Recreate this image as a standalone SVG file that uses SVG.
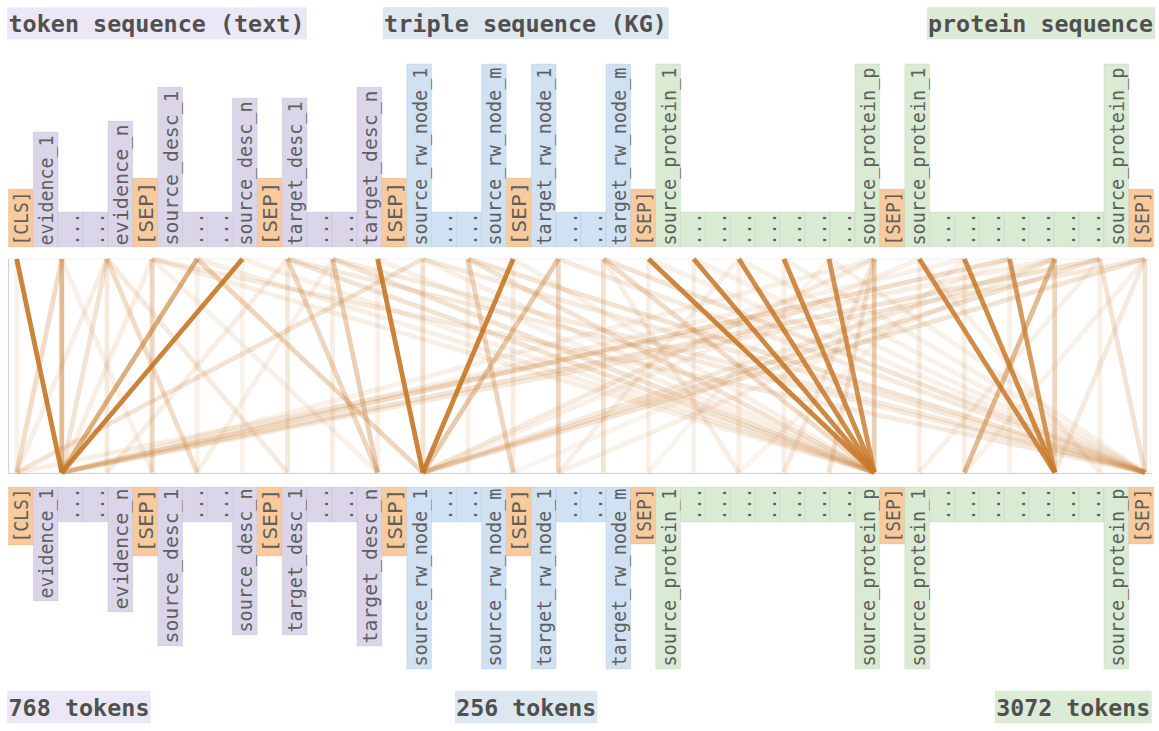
<svg xmlns="http://www.w3.org/2000/svg" width="1159" height="731" viewBox="0 0 1159 731">
<style>
.bg{fill:#ffffff}
.ttl{font-family:"DejaVu Sans Mono","Liberation Mono",monospace;font-weight:bold;font-size:23.8px;fill:#505050}
.tk{font-family:"DejaVu Sans Mono","Liberation Mono",monospace;font-size:20px;fill:#5f5f5f}
.tx{fill:#dbd5e9}
.kg{fill:#cfe1f2}
.pr{fill:#d9ebd3}
.sp{fill:#f8ca9c}
.cell{stroke:#000;stroke-opacity:0.05;stroke-width:1}
.a{stroke:#c8792a;stroke-width:4.8;stroke-linecap:butt}
</style>
<rect class="bg" x="0" y="0" width="1159" height="731"/>

<!-- titles -->
<g id="title-text"><rect x="7.3" y="7.3" width="299.4" height="32" fill="#ebe7f7"/><text class="ttl" x="8.5" y="32" textLength="296" lengthAdjust="spacingAndGlyphs">token sequence (text)</text></g>
<g id="title-kg"><rect x="382.7" y="7.3" width="286" height="32" fill="#dde7ef"/><text class="ttl" x="384" y="32" textLength="283" lengthAdjust="spacingAndGlyphs">triple sequence (KG)</text></g>
<g id="title-protein"><rect x="926.7" y="7.3" width="228.3" height="32" fill="#dcebd6"/><text class="ttl" x="928" y="32" textLength="225" lengthAdjust="spacingAndGlyphs">protein sequence</text></g>
<g id="count-text"><rect x="7.3" y="690.7" width="143.4" height="32.6" fill="#ebe7f7"/><text class="ttl" x="8.5" y="716" textLength="141" lengthAdjust="spacingAndGlyphs">768 tokens</text></g>
<g id="count-kg"><rect x="455" y="690.7" width="142.3" height="32.6" fill="#dde7ef"/><text class="ttl" x="456.3" y="716" textLength="140" lengthAdjust="spacingAndGlyphs">256 tokens</text></g>
<g id="count-protein"><rect x="995" y="690.7" width="156.7" height="32.6" fill="#dcebd6"/><text class="ttl" x="996.3" y="716" textLength="154" lengthAdjust="spacingAndGlyphs">3072 tokens</text></g>

<!-- attention panel frame -->
<g id="panel">
<rect x="8.5" y="259" width="1142" height="214" fill="none" stroke="#f2f2f2" stroke-width="1"/>
<path d="M8.5,259 V473.5 H1152" fill="none" stroke="#d2d2d2" stroke-width="1.2"/>
</g>

<!-- connectors: attention lines -->
<g id="connectors">
<line class="a" x1="16.7" y1="259" x2="61.8" y2="472.5" opacity="0.92"/>
<line class="a" x1="242.4" y1="259" x2="61.8" y2="472.5" opacity="0.92"/>
<line class="a" x1="377.7" y1="259" x2="422.9" y2="472.5" opacity="0.92"/>
<line class="a" x1="513.1" y1="259" x2="422.9" y2="472.5" opacity="0.92"/>
<line class="a" x1="648.5" y1="259" x2="874.2" y2="472.5" opacity="0.9"/>
<line class="a" x1="693.7" y1="259" x2="874.2" y2="472.5" opacity="0.88"/>
<line class="a" x1="738.8" y1="259" x2="874.2" y2="472.5" opacity="0.85"/>
<line class="a" x1="783.9" y1="259" x2="874.2" y2="472.5" opacity="0.85"/>
<line class="a" x1="829.0" y1="259" x2="874.2" y2="472.5" opacity="0.8"/>
<line class="a" x1="919.3" y1="259" x2="1054.7" y2="472.5" opacity="0.85"/>
<line class="a" x1="964.4" y1="259" x2="1054.7" y2="472.5" opacity="0.85"/>
<line class="a" x1="1009.6" y1="259" x2="1054.7" y2="472.5" opacity="0.75"/>

<line class="a" x1="61.8" y1="259" x2="61.8" y2="472.5" opacity="0.5"/>
<line class="a" x1="61.8" y1="259" x2="16.7" y2="472.5" opacity="0.25"/>
<line class="a" x1="197.2" y1="259" x2="61.8" y2="472.5" opacity="0.6"/>
<line class="a" x1="197.2" y1="259" x2="422.9" y2="472.5" opacity="0.3"/>
<line class="a" x1="558.3" y1="259" x2="422.9" y2="472.5" opacity="0.4"/>
<line class="a" x1="558.3" y1="259" x2="558.3" y2="472.5" opacity="0.3"/>
<line class="a" x1="874.2" y1="259" x2="874.2" y2="472.5" opacity="0.35"/>
<line class="a" x1="1054.7" y1="259" x2="964.4" y2="472.5" opacity="0.5"/>
<line class="a" x1="1054.7" y1="259" x2="1054.7" y2="472.5" opacity="0.3"/>
<line class="a" x1="152.1" y1="259" x2="152.1" y2="472.5" opacity="0.3"/>
<line class="a" x1="332.6" y1="259" x2="377.7" y2="472.5" opacity="0.35"/>
<line class="a" x1="287.5" y1="259" x2="377.7" y2="472.5" opacity="0.3"/>
<line class="a" x1="468.0" y1="259" x2="513.1" y2="472.5" opacity="0.3"/>
<line class="a" x1="107.0" y1="259" x2="197.2" y2="472.5" opacity="0.25"/>
<line class="a" x1="107.0" y1="259" x2="61.8" y2="472.5" opacity="0.2"/>
<line class="a" x1="422.9" y1="259" x2="422.9" y2="472.5" opacity="0.2"/>
<line class="a" x1="1145.0" y1="259" x2="1145.0" y2="472.5" opacity="0.2"/>
<line class="a" x1="1099.8" y1="259" x2="1145.0" y2="472.5" opacity="0.2"/>
<line class="a" x1="1145.0" y1="259" x2="1054.7" y2="472.5" opacity="0.15"/>

<line class="a" x1="107.0" y1="259" x2="107.0" y2="472.5" opacity="0.15"/>
<line class="a" x1="107.0" y1="259" x2="16.7" y2="472.5" opacity="0.12"/>
<line class="a" x1="107.0" y1="259" x2="287.5" y2="472.5" opacity="0.15"/>
<line class="a" x1="152.1" y1="259" x2="61.8" y2="472.5" opacity="0.12"/>
<line class="a" x1="152.1" y1="259" x2="1145.0" y2="472.5" opacity="0.15"/>
<line class="a" x1="152.1" y1="259" x2="874.2" y2="472.5" opacity="0.12"/>
<line class="a" x1="287.5" y1="259" x2="287.5" y2="472.5" opacity="0.15"/>
<line class="a" x1="287.5" y1="259" x2="874.2" y2="472.5" opacity="0.2"/>
<line class="a" x1="287.5" y1="259" x2="1145.0" y2="472.5" opacity="0.15"/>
<line class="a" x1="332.6" y1="259" x2="874.2" y2="472.5" opacity="0.2"/>
<line class="a" x1="332.6" y1="259" x2="1145.0" y2="472.5" opacity="0.15"/>
<line class="a" x1="332.6" y1="259" x2="332.6" y2="472.5" opacity="0.12"/>
<line class="a" x1="422.9" y1="259" x2="16.7" y2="472.5" opacity="0.2"/>
<line class="a" x1="422.9" y1="259" x2="1145.0" y2="472.5" opacity="0.15"/>
<line class="a" x1="422.9" y1="259" x2="874.2" y2="472.5" opacity="0.12"/>
<line class="a" x1="468.0" y1="259" x2="1145.0" y2="472.5" opacity="0.2"/>
<line class="a" x1="468.0" y1="259" x2="874.2" y2="472.5" opacity="0.2"/>
<line class="a" x1="603.4" y1="259" x2="603.4" y2="472.5" opacity="0.2"/>
<line class="a" x1="603.4" y1="259" x2="874.2" y2="472.5" opacity="0.25"/>
<line class="a" x1="603.4" y1="259" x2="1145.0" y2="472.5" opacity="0.2"/>
<line class="a" x1="558.3" y1="259" x2="1145.0" y2="472.5" opacity="0.15"/>
<line class="a" x1="874.2" y1="259" x2="829.0" y2="472.5" opacity="0.2"/>
<line class="a" x1="874.2" y1="259" x2="783.9" y2="472.5" opacity="0.15"/>
<line class="a" x1="874.2" y1="259" x2="61.8" y2="472.5" opacity="0.1"/>
<line class="a" x1="874.2" y1="259" x2="422.9" y2="472.5" opacity="0.15"/>
<line class="a" x1="1009.6" y1="259" x2="61.8" y2="472.5" opacity="0.25"/>
<line class="a" x1="1099.8" y1="259" x2="61.8" y2="472.5" opacity="0.2"/>
<line class="a" x1="1145.0" y1="259" x2="61.8" y2="472.5" opacity="0.15"/>
<line class="a" x1="1054.7" y1="259" x2="16.7" y2="472.5" opacity="0.12"/>
<line class="a" x1="1099.8" y1="259" x2="422.9" y2="472.5" opacity="0.2"/>
<line class="a" x1="1145.0" y1="259" x2="422.9" y2="472.5" opacity="0.2"/>
<line class="a" x1="1054.7" y1="259" x2="422.9" y2="472.5" opacity="0.15"/>
<line class="a" x1="919.3" y1="259" x2="422.9" y2="472.5" opacity="0.1"/>
<line class="a" x1="964.4" y1="259" x2="61.8" y2="472.5" opacity="0.1"/>
<line class="a" x1="648.5" y1="259" x2="1145.0" y2="472.5" opacity="0.1"/>
<line class="a" x1="693.7" y1="259" x2="1145.0" y2="472.5" opacity="0.1"/>
<line class="a" x1="738.8" y1="259" x2="1145.0" y2="472.5" opacity="0.1"/>
<line class="a" x1="783.9" y1="259" x2="1145.0" y2="472.5" opacity="0.1"/>
<line class="a" x1="829.0" y1="259" x2="1145.0" y2="472.5" opacity="0.1"/>
<line class="a" x1="513.1" y1="259" x2="874.2" y2="472.5" opacity="0.1"/>
<line class="a" x1="377.7" y1="259" x2="874.2" y2="472.5" opacity="0.1"/>
<line class="a" x1="242.4" y1="259" x2="874.2" y2="472.5" opacity="0.1"/>
<line class="a" x1="197.2" y1="259" x2="874.2" y2="472.5" opacity="0.12"/>
<line class="a" x1="16.7" y1="259" x2="16.7" y2="472.5" opacity="0.1"/>
<line class="a" x1="513.1" y1="259" x2="513.1" y2="472.5" opacity="0.12"/>
<line class="a" x1="377.7" y1="259" x2="377.7" y2="472.5" opacity="0.1"/>
<line class="a" x1="603.4" y1="259" x2="738.8" y2="472.5" opacity="0.12"/>
<line class="a" x1="738.8" y1="259" x2="738.8" y2="472.5" opacity="0.1"/>
<line class="a" x1="783.9" y1="259" x2="783.9" y2="472.5" opacity="0.1"/>
<line class="a" x1="693.7" y1="259" x2="693.7" y2="472.5" opacity="0.1"/>
<line class="a" x1="919.3" y1="259" x2="919.3" y2="472.5" opacity="0.12"/>
<line class="a" x1="964.4" y1="259" x2="964.4" y2="472.5" opacity="0.12"/>
<line class="a" x1="1009.6" y1="259" x2="1009.6" y2="472.5" opacity="0.1"/>
<line class="a" x1="1099.8" y1="259" x2="1099.8" y2="472.5" opacity="0.1"/>
<line class="a" x1="648.5" y1="259" x2="648.5" y2="472.5" opacity="0.1"/>
<line class="a" x1="468.0" y1="259" x2="468.0" y2="472.5" opacity="0.1"/>
<line class="a" x1="61.8" y1="259" x2="152.1" y2="472.5" opacity="0.1"/>
<line class="a" x1="242.4" y1="259" x2="242.4" y2="472.5" opacity="0.08"/>
<line class="a" x1="197.2" y1="259" x2="197.2" y2="472.5" opacity="0.1"/>
<line class="a" x1="287.5" y1="259" x2="107.0" y2="472.5" opacity="0.12"/>
<line class="a" x1="332.6" y1="259" x2="197.2" y2="472.5" opacity="0.1"/>
<line class="a" x1="152.1" y1="259" x2="377.7" y2="472.5" opacity="0.1"/>
<line class="a" x1="738.8" y1="259" x2="558.3" y2="472.5" opacity="0.1"/>
<line class="a" x1="829.0" y1="259" x2="648.5" y2="472.5" opacity="0.08"/>
<line class="a" x1="919.3" y1="259" x2="1099.8" y2="472.5" opacity="0.1"/>
<line class="a" x1="964.4" y1="259" x2="738.8" y2="472.5" opacity="0.08"/>
<line class="a" x1="1099.8" y1="259" x2="919.3" y2="472.5" opacity="0.1"/>
<line class="a" x1="1145.0" y1="259" x2="964.4" y2="472.5" opacity="0.1"/>
<line class="a" x1="1054.7" y1="259" x2="558.3" y2="472.5" opacity="0.1"/>
<line class="a" x1="1009.6" y1="259" x2="513.1" y2="472.5" opacity="0.08"/>
</g>

<!-- top row tokens (text anchored at bottom) -->
<g id="top-0"><rect class="sp cell" x="8.3" y="189" width="24.9" height="58"/><text class="tk" transform="translate(28.2,245.5) rotate(-90)" textLength="54" lengthAdjust="spacingAndGlyphs">[CLS]</text></g>
<g id="top-1"><rect class="tx cell" x="33.2" y="132" width="24.9" height="115"/><text class="tk" transform="translate(53.1,245.5) rotate(-90)" textLength="110" lengthAdjust="spacingAndGlyphs">evidence_1</text></g>
<g id="top-2"><rect class="tx cell" x="58.1" y="212" width="24.9" height="35"/><text class="tk" transform="translate(78.6,245.5) rotate(-90)" textLength="33" lengthAdjust="spacingAndGlyphs">...</text></g>
<g id="top-3"><rect class="tx cell" x="83.0" y="212" width="24.9" height="35"/><text class="tk" transform="translate(103.5,245.5) rotate(-90)" textLength="33" lengthAdjust="spacingAndGlyphs">...</text></g>
<g id="top-4"><rect class="tx cell" x="107.9" y="121" width="24.9" height="126"/><text class="tk" transform="translate(127.8,245.5) rotate(-90)" textLength="121" lengthAdjust="spacingAndGlyphs">evidence_n</text></g>
<g id="top-5"><rect class="sp cell" x="132.8" y="178" width="24.9" height="69"/><text class="tk" transform="translate(152.7,245.5) rotate(-90)" textLength="64" lengthAdjust="spacingAndGlyphs">[SEP]</text></g>
<g id="top-6"><rect class="tx cell" x="157.7" y="87" width="24.9" height="160"/><text class="tk" transform="translate(177.6,245.5) rotate(-90)" textLength="155" lengthAdjust="spacingAndGlyphs">source_desc_1</text></g>
<g id="top-7"><rect class="tx cell" x="182.6" y="212" width="24.9" height="35"/><text class="tk" transform="translate(203.1,245.5) rotate(-90)" textLength="33" lengthAdjust="spacingAndGlyphs">...</text></g>
<g id="top-8"><rect class="tx cell" x="207.5" y="212" width="24.9" height="35"/><text class="tk" transform="translate(228,245.5) rotate(-90)" textLength="33" lengthAdjust="spacingAndGlyphs">...</text></g>
<g id="top-9"><rect class="tx cell" x="232.4" y="98" width="24.9" height="149"/><text class="tk" transform="translate(252.3,245.5) rotate(-90)" textLength="144" lengthAdjust="spacingAndGlyphs">source_desc_n</text></g>
<g id="top-10"><rect class="sp cell" x="257.3" y="178" width="24.9" height="69"/><text class="tk" transform="translate(277.2,245.5) rotate(-90)" textLength="64" lengthAdjust="spacingAndGlyphs">[SEP]</text></g>
<g id="top-11"><rect class="tx cell" x="282.2" y="98" width="24.9" height="149"/><text class="tk" transform="translate(302.1,245.5) rotate(-90)" textLength="144" lengthAdjust="spacingAndGlyphs">target_desc_1</text></g>
<g id="top-12"><rect class="tx cell" x="307.1" y="212" width="24.9" height="35"/><text class="tk" transform="translate(327.6,245.5) rotate(-90)" textLength="33" lengthAdjust="spacingAndGlyphs">...</text></g>
<g id="top-13"><rect class="tx cell" x="332.0" y="212" width="24.9" height="35"/><text class="tk" transform="translate(352.5,245.5) rotate(-90)" textLength="33" lengthAdjust="spacingAndGlyphs">...</text></g>
<g id="top-14"><rect class="tx cell" x="356.9" y="87" width="24.9" height="160"/><text class="tk" transform="translate(376.8,245.5) rotate(-90)" textLength="155" lengthAdjust="spacingAndGlyphs">target_desc_n</text></g>
<g id="top-15"><rect class="sp cell" x="381.8" y="178" width="24.9" height="69"/><text class="tk" transform="translate(401.7,245.5) rotate(-90)" textLength="64" lengthAdjust="spacingAndGlyphs">[SEP]</text></g>
<g id="top-16"><rect class="kg cell" x="406.7" y="64" width="24.9" height="183"/><text class="tk" transform="translate(426.6,245.5) rotate(-90)" textLength="178" lengthAdjust="spacingAndGlyphs">source_rw_node_1</text></g>
<g id="top-17"><rect class="kg cell" x="431.6" y="212" width="24.9" height="35"/><text class="tk" transform="translate(452.1,245.5) rotate(-90)" textLength="33" lengthAdjust="spacingAndGlyphs">...</text></g>
<g id="top-18"><rect class="kg cell" x="456.5" y="212" width="24.9" height="35"/><text class="tk" transform="translate(477,245.5) rotate(-90)" textLength="33" lengthAdjust="spacingAndGlyphs">...</text></g>
<g id="top-19"><rect class="kg cell" x="481.4" y="64" width="24.9" height="183"/><text class="tk" transform="translate(501.3,245.5) rotate(-90)" textLength="178" lengthAdjust="spacingAndGlyphs">source_rw_node_m</text></g>
<g id="top-20"><rect class="sp cell" x="506.3" y="178" width="24.9" height="69"/><text class="tk" transform="translate(526.2,245.5) rotate(-90)" textLength="64" lengthAdjust="spacingAndGlyphs">[SEP]</text></g>
<g id="top-21"><rect class="kg cell" x="531.2" y="64" width="24.9" height="183"/><text class="tk" transform="translate(551.1,245.5) rotate(-90)" textLength="178" lengthAdjust="spacingAndGlyphs">target_rw_node_1</text></g>
<g id="top-22"><rect class="kg cell" x="556.1" y="212" width="24.9" height="35"/><text class="tk" transform="translate(576.6,245.5) rotate(-90)" textLength="33" lengthAdjust="spacingAndGlyphs">...</text></g>
<g id="top-23"><rect class="kg cell" x="581.0" y="212" width="24.9" height="35"/><text class="tk" transform="translate(601.5,245.5) rotate(-90)" textLength="33" lengthAdjust="spacingAndGlyphs">...</text></g>
<g id="top-24"><rect class="kg cell" x="605.9" y="64" width="24.9" height="183"/><text class="tk" transform="translate(625.8,245.5) rotate(-90)" textLength="178" lengthAdjust="spacingAndGlyphs">target_rw_node_m</text></g>
<g id="top-25"><rect class="sp cell" x="630.8" y="189" width="24.9" height="58"/><text class="tk" transform="translate(650.7,245.5) rotate(-90)" textLength="54" lengthAdjust="spacingAndGlyphs">[SEP]</text></g>
<g id="top-26"><rect class="pr cell" x="655.7" y="64" width="24.9" height="183"/><text class="tk" transform="translate(675.6,245.5) rotate(-90)" textLength="178" lengthAdjust="spacingAndGlyphs">source_protein_1</text></g>
<g id="top-27"><rect class="pr cell" x="680.6" y="212" width="24.9" height="35"/><text class="tk" transform="translate(701.1,245.5) rotate(-90)" textLength="33" lengthAdjust="spacingAndGlyphs">...</text></g>
<g id="top-28"><rect class="pr cell" x="705.5" y="212" width="24.9" height="35"/><text class="tk" transform="translate(726,245.5) rotate(-90)" textLength="33" lengthAdjust="spacingAndGlyphs">...</text></g>
<g id="top-29"><rect class="pr cell" x="730.4" y="212" width="24.9" height="35"/><text class="tk" transform="translate(750.9,245.5) rotate(-90)" textLength="33" lengthAdjust="spacingAndGlyphs">...</text></g>
<g id="top-30"><rect class="pr cell" x="755.3" y="212" width="24.9" height="35"/><text class="tk" transform="translate(775.8,245.5) rotate(-90)" textLength="33" lengthAdjust="spacingAndGlyphs">...</text></g>
<g id="top-31"><rect class="pr cell" x="780.2" y="212" width="24.9" height="35"/><text class="tk" transform="translate(800.7,245.5) rotate(-90)" textLength="33" lengthAdjust="spacingAndGlyphs">...</text></g>
<g id="top-32"><rect class="pr cell" x="805.1" y="212" width="24.9" height="35"/><text class="tk" transform="translate(825.6,245.5) rotate(-90)" textLength="33" lengthAdjust="spacingAndGlyphs">...</text></g>
<g id="top-33"><rect class="pr cell" x="830.0" y="212" width="24.9" height="35"/><text class="tk" transform="translate(850.5,245.5) rotate(-90)" textLength="33" lengthAdjust="spacingAndGlyphs">...</text></g>
<g id="top-34"><rect class="pr cell" x="854.9" y="64" width="24.9" height="183"/><text class="tk" transform="translate(874.8,245.5) rotate(-90)" textLength="178" lengthAdjust="spacingAndGlyphs">source_protein_p</text></g>
<g id="top-35"><rect class="sp cell" x="879.8" y="189" width="24.9" height="58"/><text class="tk" transform="translate(899.7,245.5) rotate(-90)" textLength="54" lengthAdjust="spacingAndGlyphs">[SEP]</text></g>
<g id="top-36"><rect class="pr cell" x="904.7" y="64" width="24.9" height="183"/><text class="tk" transform="translate(924.6,245.5) rotate(-90)" textLength="178" lengthAdjust="spacingAndGlyphs">source_protein_1</text></g>
<g id="top-37"><rect class="pr cell" x="929.6" y="212" width="24.9" height="35"/><text class="tk" transform="translate(950.1,245.5) rotate(-90)" textLength="33" lengthAdjust="spacingAndGlyphs">...</text></g>
<g id="top-38"><rect class="pr cell" x="954.5" y="212" width="24.9" height="35"/><text class="tk" transform="translate(975,245.5) rotate(-90)" textLength="33" lengthAdjust="spacingAndGlyphs">...</text></g>
<g id="top-39"><rect class="pr cell" x="979.4" y="212" width="24.9" height="35"/><text class="tk" transform="translate(999.9,245.5) rotate(-90)" textLength="33" lengthAdjust="spacingAndGlyphs">...</text></g>
<g id="top-40"><rect class="pr cell" x="1004.3" y="212" width="24.9" height="35"/><text class="tk" transform="translate(1024.8,245.5) rotate(-90)" textLength="33" lengthAdjust="spacingAndGlyphs">...</text></g>
<g id="top-41"><rect class="pr cell" x="1029.2" y="212" width="24.9" height="35"/><text class="tk" transform="translate(1049.7,245.5) rotate(-90)" textLength="33" lengthAdjust="spacingAndGlyphs">...</text></g>
<g id="top-42"><rect class="pr cell" x="1054.1" y="212" width="24.9" height="35"/><text class="tk" transform="translate(1074.6,245.5) rotate(-90)" textLength="33" lengthAdjust="spacingAndGlyphs">...</text></g>
<g id="top-43"><rect class="pr cell" x="1079.0" y="212" width="24.9" height="35"/><text class="tk" transform="translate(1099.5,245.5) rotate(-90)" textLength="33" lengthAdjust="spacingAndGlyphs">...</text></g>
<g id="top-44"><rect class="pr cell" x="1103.9" y="64" width="24.9" height="183"/><text class="tk" transform="translate(1123.8,245.5) rotate(-90)" textLength="178" lengthAdjust="spacingAndGlyphs">source_protein_p</text></g>
<g id="top-45"><rect class="sp cell" x="1128.8" y="189" width="24.9" height="58"/><text class="tk" transform="translate(1148.7,245.5) rotate(-90)" textLength="54" lengthAdjust="spacingAndGlyphs">[SEP]</text></g>

<!-- bottom row tokens (text anchored at top) -->
<g id="bot-0"><rect class="sp cell" x="8.3" y="487" width="24.9" height="58"/><text class="tk" text-anchor="end" transform="translate(28.2,488.5) rotate(-90)" textLength="54" lengthAdjust="spacingAndGlyphs">[CLS]</text></g>
<g id="bot-1"><rect class="tx cell" x="33.2" y="487" width="24.9" height="114"/><text class="tk" text-anchor="end" transform="translate(53.1,488.5) rotate(-90)" textLength="110" lengthAdjust="spacingAndGlyphs">evidence_1</text></g>
<g id="bot-2"><rect class="tx cell" x="58.1" y="487" width="24.9" height="35"/><text class="tk" text-anchor="end" transform="translate(78.6,487.5) rotate(-90)" textLength="33" lengthAdjust="spacingAndGlyphs">...</text></g>
<g id="bot-3"><rect class="tx cell" x="83.0" y="487" width="24.9" height="35"/><text class="tk" text-anchor="end" transform="translate(103.5,487.5) rotate(-90)" textLength="33" lengthAdjust="spacingAndGlyphs">...</text></g>
<g id="bot-4"><rect class="tx cell" x="107.9" y="487" width="24.9" height="125"/><text class="tk" text-anchor="end" transform="translate(127.8,488.5) rotate(-90)" textLength="121" lengthAdjust="spacingAndGlyphs">evidence_n</text></g>
<g id="bot-5"><rect class="sp cell" x="132.8" y="487" width="24.9" height="69"/><text class="tk" text-anchor="end" transform="translate(152.7,488.5) rotate(-90)" textLength="64" lengthAdjust="spacingAndGlyphs">[SEP]</text></g>
<g id="bot-6"><rect class="tx cell" x="157.7" y="487" width="24.9" height="159"/><text class="tk" text-anchor="end" transform="translate(177.6,488.5) rotate(-90)" textLength="155" lengthAdjust="spacingAndGlyphs">source_desc_1</text></g>
<g id="bot-7"><rect class="tx cell" x="182.6" y="487" width="24.9" height="35"/><text class="tk" text-anchor="end" transform="translate(203.1,487.5) rotate(-90)" textLength="33" lengthAdjust="spacingAndGlyphs">...</text></g>
<g id="bot-8"><rect class="tx cell" x="207.5" y="487" width="24.9" height="35"/><text class="tk" text-anchor="end" transform="translate(228,487.5) rotate(-90)" textLength="33" lengthAdjust="spacingAndGlyphs">...</text></g>
<g id="bot-9"><rect class="tx cell" x="232.4" y="487" width="24.9" height="148"/><text class="tk" text-anchor="end" transform="translate(252.3,488.5) rotate(-90)" textLength="144" lengthAdjust="spacingAndGlyphs">source_desc_n</text></g>
<g id="bot-10"><rect class="sp cell" x="257.3" y="487" width="24.9" height="69"/><text class="tk" text-anchor="end" transform="translate(277.2,488.5) rotate(-90)" textLength="64" lengthAdjust="spacingAndGlyphs">[SEP]</text></g>
<g id="bot-11"><rect class="tx cell" x="282.2" y="487" width="24.9" height="148"/><text class="tk" text-anchor="end" transform="translate(302.1,488.5) rotate(-90)" textLength="144" lengthAdjust="spacingAndGlyphs">target_desc_1</text></g>
<g id="bot-12"><rect class="tx cell" x="307.1" y="487" width="24.9" height="35"/><text class="tk" text-anchor="end" transform="translate(327.6,487.5) rotate(-90)" textLength="33" lengthAdjust="spacingAndGlyphs">...</text></g>
<g id="bot-13"><rect class="tx cell" x="332.0" y="487" width="24.9" height="35"/><text class="tk" text-anchor="end" transform="translate(352.5,487.5) rotate(-90)" textLength="33" lengthAdjust="spacingAndGlyphs">...</text></g>
<g id="bot-14"><rect class="tx cell" x="356.9" y="487" width="24.9" height="159"/><text class="tk" text-anchor="end" transform="translate(376.8,488.5) rotate(-90)" textLength="155" lengthAdjust="spacingAndGlyphs">target_desc_n</text></g>
<g id="bot-15"><rect class="sp cell" x="381.8" y="487" width="24.9" height="69"/><text class="tk" text-anchor="end" transform="translate(401.7,488.5) rotate(-90)" textLength="64" lengthAdjust="spacingAndGlyphs">[SEP]</text></g>
<g id="bot-16"><rect class="kg cell" x="406.7" y="487" width="24.9" height="182"/><text class="tk" text-anchor="end" transform="translate(426.6,488.5) rotate(-90)" textLength="178" lengthAdjust="spacingAndGlyphs">source_rw_node_1</text></g>
<g id="bot-17"><rect class="kg cell" x="431.6" y="487" width="24.9" height="35"/><text class="tk" text-anchor="end" transform="translate(452.1,487.5) rotate(-90)" textLength="33" lengthAdjust="spacingAndGlyphs">...</text></g>
<g id="bot-18"><rect class="kg cell" x="456.5" y="487" width="24.9" height="35"/><text class="tk" text-anchor="end" transform="translate(477,487.5) rotate(-90)" textLength="33" lengthAdjust="spacingAndGlyphs">...</text></g>
<g id="bot-19"><rect class="kg cell" x="481.4" y="487" width="24.9" height="182"/><text class="tk" text-anchor="end" transform="translate(501.3,488.5) rotate(-90)" textLength="178" lengthAdjust="spacingAndGlyphs">source_rw_node_m</text></g>
<g id="bot-20"><rect class="sp cell" x="506.3" y="487" width="24.9" height="69"/><text class="tk" text-anchor="end" transform="translate(526.2,488.5) rotate(-90)" textLength="64" lengthAdjust="spacingAndGlyphs">[SEP]</text></g>
<g id="bot-21"><rect class="kg cell" x="531.2" y="487" width="24.9" height="182"/><text class="tk" text-anchor="end" transform="translate(551.1,488.5) rotate(-90)" textLength="178" lengthAdjust="spacingAndGlyphs">target_rw_node_1</text></g>
<g id="bot-22"><rect class="kg cell" x="556.1" y="487" width="24.9" height="35"/><text class="tk" text-anchor="end" transform="translate(576.6,487.5) rotate(-90)" textLength="33" lengthAdjust="spacingAndGlyphs">...</text></g>
<g id="bot-23"><rect class="kg cell" x="581.0" y="487" width="24.9" height="35"/><text class="tk" text-anchor="end" transform="translate(601.5,487.5) rotate(-90)" textLength="33" lengthAdjust="spacingAndGlyphs">...</text></g>
<g id="bot-24"><rect class="kg cell" x="605.9" y="487" width="24.9" height="182"/><text class="tk" text-anchor="end" transform="translate(625.8,488.5) rotate(-90)" textLength="178" lengthAdjust="spacingAndGlyphs">target_rw_node_m</text></g>
<g id="bot-25"><rect class="sp cell" x="630.8" y="487" width="24.9" height="57"/><text class="tk" text-anchor="end" transform="translate(650.7,488.5) rotate(-90)" textLength="54" lengthAdjust="spacingAndGlyphs">[SEP]</text></g>
<g id="bot-26"><rect class="pr cell" x="655.7" y="487" width="24.9" height="182"/><text class="tk" text-anchor="end" transform="translate(675.6,488.5) rotate(-90)" textLength="178" lengthAdjust="spacingAndGlyphs">source_protein_1</text></g>
<g id="bot-27"><rect class="pr cell" x="680.6" y="487" width="24.9" height="35"/><text class="tk" text-anchor="end" transform="translate(701.1,487.5) rotate(-90)" textLength="33" lengthAdjust="spacingAndGlyphs">...</text></g>
<g id="bot-28"><rect class="pr cell" x="705.5" y="487" width="24.9" height="35"/><text class="tk" text-anchor="end" transform="translate(726,487.5) rotate(-90)" textLength="33" lengthAdjust="spacingAndGlyphs">...</text></g>
<g id="bot-29"><rect class="pr cell" x="730.4" y="487" width="24.9" height="35"/><text class="tk" text-anchor="end" transform="translate(750.9,487.5) rotate(-90)" textLength="33" lengthAdjust="spacingAndGlyphs">...</text></g>
<g id="bot-30"><rect class="pr cell" x="755.3" y="487" width="24.9" height="35"/><text class="tk" text-anchor="end" transform="translate(775.8,487.5) rotate(-90)" textLength="33" lengthAdjust="spacingAndGlyphs">...</text></g>
<g id="bot-31"><rect class="pr cell" x="780.2" y="487" width="24.9" height="35"/><text class="tk" text-anchor="end" transform="translate(800.7,487.5) rotate(-90)" textLength="33" lengthAdjust="spacingAndGlyphs">...</text></g>
<g id="bot-32"><rect class="pr cell" x="805.1" y="487" width="24.9" height="35"/><text class="tk" text-anchor="end" transform="translate(825.6,487.5) rotate(-90)" textLength="33" lengthAdjust="spacingAndGlyphs">...</text></g>
<g id="bot-33"><rect class="pr cell" x="830.0" y="487" width="24.9" height="35"/><text class="tk" text-anchor="end" transform="translate(850.5,487.5) rotate(-90)" textLength="33" lengthAdjust="spacingAndGlyphs">...</text></g>
<g id="bot-34"><rect class="pr cell" x="854.9" y="487" width="24.9" height="182"/><text class="tk" text-anchor="end" transform="translate(874.8,488.5) rotate(-90)" textLength="178" lengthAdjust="spacingAndGlyphs">source_protein_p</text></g>
<g id="bot-35"><rect class="sp cell" x="879.8" y="487" width="24.9" height="57"/><text class="tk" text-anchor="end" transform="translate(899.7,488.5) rotate(-90)" textLength="54" lengthAdjust="spacingAndGlyphs">[SEP]</text></g>
<g id="bot-36"><rect class="pr cell" x="904.7" y="487" width="24.9" height="182"/><text class="tk" text-anchor="end" transform="translate(924.6,488.5) rotate(-90)" textLength="178" lengthAdjust="spacingAndGlyphs">source_protein_1</text></g>
<g id="bot-37"><rect class="pr cell" x="929.6" y="487" width="24.9" height="35"/><text class="tk" text-anchor="end" transform="translate(950.1,487.5) rotate(-90)" textLength="33" lengthAdjust="spacingAndGlyphs">...</text></g>
<g id="bot-38"><rect class="pr cell" x="954.5" y="487" width="24.9" height="35"/><text class="tk" text-anchor="end" transform="translate(975,487.5) rotate(-90)" textLength="33" lengthAdjust="spacingAndGlyphs">...</text></g>
<g id="bot-39"><rect class="pr cell" x="979.4" y="487" width="24.9" height="35"/><text class="tk" text-anchor="end" transform="translate(999.9,487.5) rotate(-90)" textLength="33" lengthAdjust="spacingAndGlyphs">...</text></g>
<g id="bot-40"><rect class="pr cell" x="1004.3" y="487" width="24.9" height="35"/><text class="tk" text-anchor="end" transform="translate(1024.8,487.5) rotate(-90)" textLength="33" lengthAdjust="spacingAndGlyphs">...</text></g>
<g id="bot-41"><rect class="pr cell" x="1029.2" y="487" width="24.9" height="35"/><text class="tk" text-anchor="end" transform="translate(1049.7,487.5) rotate(-90)" textLength="33" lengthAdjust="spacingAndGlyphs">...</text></g>
<g id="bot-42"><rect class="pr cell" x="1054.1" y="487" width="24.9" height="35"/><text class="tk" text-anchor="end" transform="translate(1074.6,487.5) rotate(-90)" textLength="33" lengthAdjust="spacingAndGlyphs">...</text></g>
<g id="bot-43"><rect class="pr cell" x="1079.0" y="487" width="24.9" height="35"/><text class="tk" text-anchor="end" transform="translate(1099.5,487.5) rotate(-90)" textLength="33" lengthAdjust="spacingAndGlyphs">...</text></g>
<g id="bot-44"><rect class="pr cell" x="1103.9" y="487" width="24.9" height="182"/><text class="tk" text-anchor="end" transform="translate(1123.8,488.5) rotate(-90)" textLength="178" lengthAdjust="spacingAndGlyphs">source_protein_p</text></g>
<g id="bot-45"><rect class="sp cell" x="1128.8" y="487" width="24.9" height="57"/><text class="tk" text-anchor="end" transform="translate(1148.7,488.5) rotate(-90)" textLength="54" lengthAdjust="spacingAndGlyphs">[SEP]</text></g>
</svg>
